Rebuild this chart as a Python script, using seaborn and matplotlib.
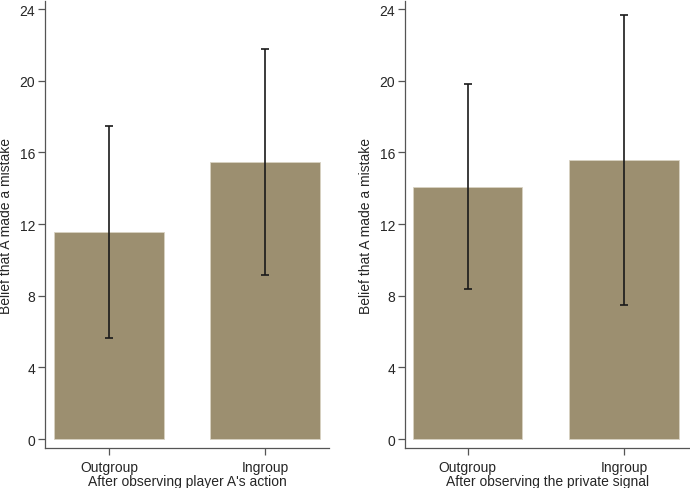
import numpy as np
import matplotlib.pyplot as plt
import pandas as pd
import seaborn as sns

groups = ['Outgroup', 'Ingroup']
panels = ["After observing player A's action", "After observing the private signal"]
means_action = [11.57, 15.45]
lo_action = [5.65, 9.15]
hi_action = [17.48, 21.75]
means_signal = [14.07, 15.55]
lo_signal = [8.35, 7.48]
hi_signal = [19.82, 23.68]

BAR = '#9c8f70'
TXT = '#262626'

sns.set_theme(style='white')
plt.rcParams['font.family'] = ['Liberation Sans', 'DejaVu Sans']
plt.rc('font', size=10)

fig = plt.figure(figsize=(6.9, 4.89), dpi=100)
axes = [fig.add_axes([0.0652, 0.0818, 0.4116, 0.914]),
        fig.add_axes([0.587, 0.0818, 0.413, 0.914])]

sets = [(means_action, lo_action, hi_action), (means_signal, lo_signal, hi_signal)]
xlims = [(-0.41, 1.41), (-0.40, 1.42)]

for ax, title, (m, lo, hi), xl in zip(axes, panels, sets, xlims):
    df = pd.DataFrame({'group': groups, 'belief': m})
    sns.barplot(data=df, x='group', y='belief', color=BAR, saturation=1,
                width=0.7, errorbar=None, ax=ax, edgecolor='#d8d2c2', linewidth=0.6)
    x = np.arange(len(groups))
    m = np.array(m)
    ax.errorbar(x, m, yerr=[m - np.array(lo), np.array(hi) - m], fmt='none',
                ecolor='#1a1a1a', elinewidth=1.2, capsize=2.6, capthick=1.2)
    ax.set_ylim(-0.5, 24.45)
    ax.set_xlim(*xl)
    ax.set_yticks(np.arange(0, 25, 4))
    ax.set_ylabel('Belief that A made a mistake', fontsize=10, color=TXT, labelpad=5)
    ax.set_xlabel(title, fontsize=10, color=TXT, labelpad=0)
    sns.despine(ax=ax)
    for s in ['left', 'bottom']:
        ax.spines[s].set_color('#555555')
        ax.spines[s].set_linewidth(0.9)
    ax.tick_params(axis='both', which='major', length=5, width=0.9, color='#555555',
                   labelsize=10, labelcolor=TXT, pad=2, left=True, bottom=True)
    ax.tick_params(axis='x', pad=3.5)

fig.savefig('out.png', dpi=100)
